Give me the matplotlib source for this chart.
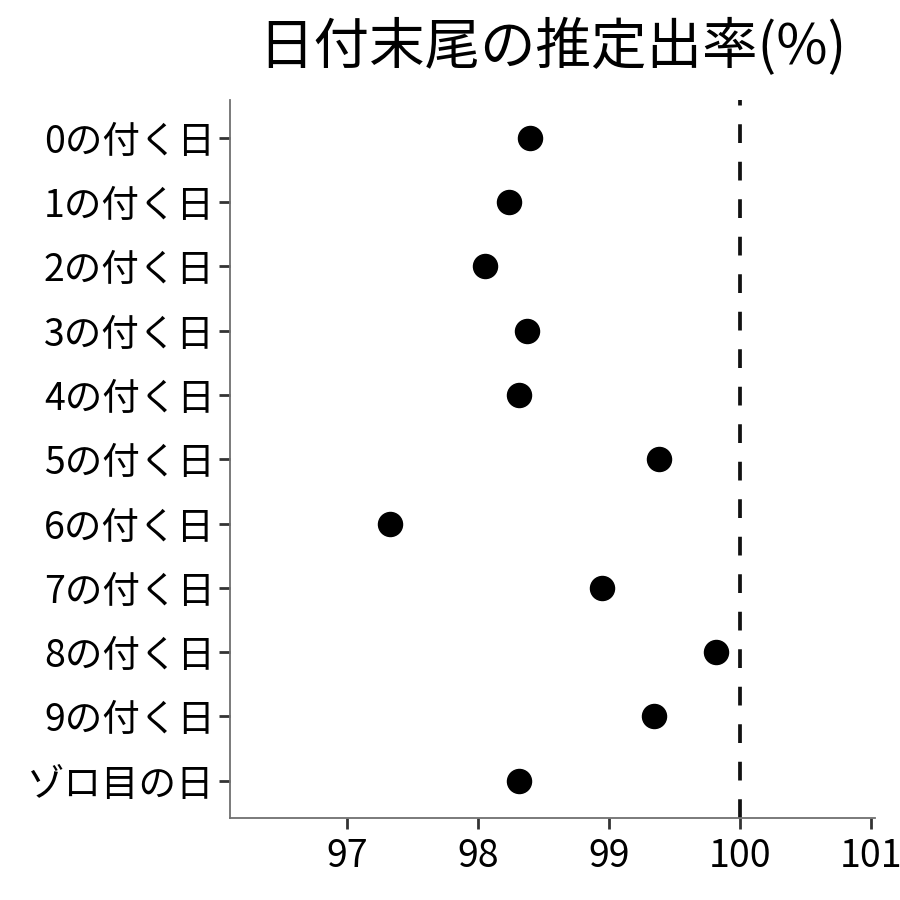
import matplotlib

matplotlib.use("Agg")
import matplotlib.pyplot as plt

plt.rcParams["font.family"] = ["Noto Sans CJK JP", "DejaVu Sans"]

categories = ["0の付く日", "1の付く日", "2の付く日", "3の付く日", "4の付く日",
              "5の付く日", "6の付く日", "7の付く日", "8の付く日", "9の付く日", "ゾロ目の日"]
rates = [98.40, 98.24, 98.05, 98.37, 98.31, 99.38, 97.33, 98.95, 99.82, 99.34, 98.31]
xticks = [97, 98, 99, 100, 101]

fig = plt.figure(figsize=(9, 9), dpi=100)
ax = fig.add_axes([0.2556, 0.0911, 0.7166, 0.7978])

ypos = list(range(len(categories)))
ax.scatter(rates, ypos, s=300, color="black", zorder=3)
ax.axvline(100, color="#111111", linewidth=2.7, linestyle=(0, (5, 5)), zorder=2)

ax.set_yticks(ypos)
ax.set_yticklabels(categories)
ax.set_ylim(len(categories) - 1 + 0.58, -0.59)
ax.set_xticks(xticks)
ax.set_xlim(96.107, 101.03)

for side in ("top", "right"):
    ax.spines[side].set_visible(False)
for side in ("left", "bottom"):
    ax.spines[side].set_color("#707070")
    ax.spines[side].set_linewidth(1.3)
ax.tick_params(axis="both", colors="#333333", length=8, width=2, labelsize=27,
               labelcolor="black", pad=3)
ax.tick_params(axis="x", pad=6)

fig.suptitle("日付末尾の推定出率(%)", x=0.614, y=0.979, fontsize=40, va="top")

fig.savefig("out.png")
